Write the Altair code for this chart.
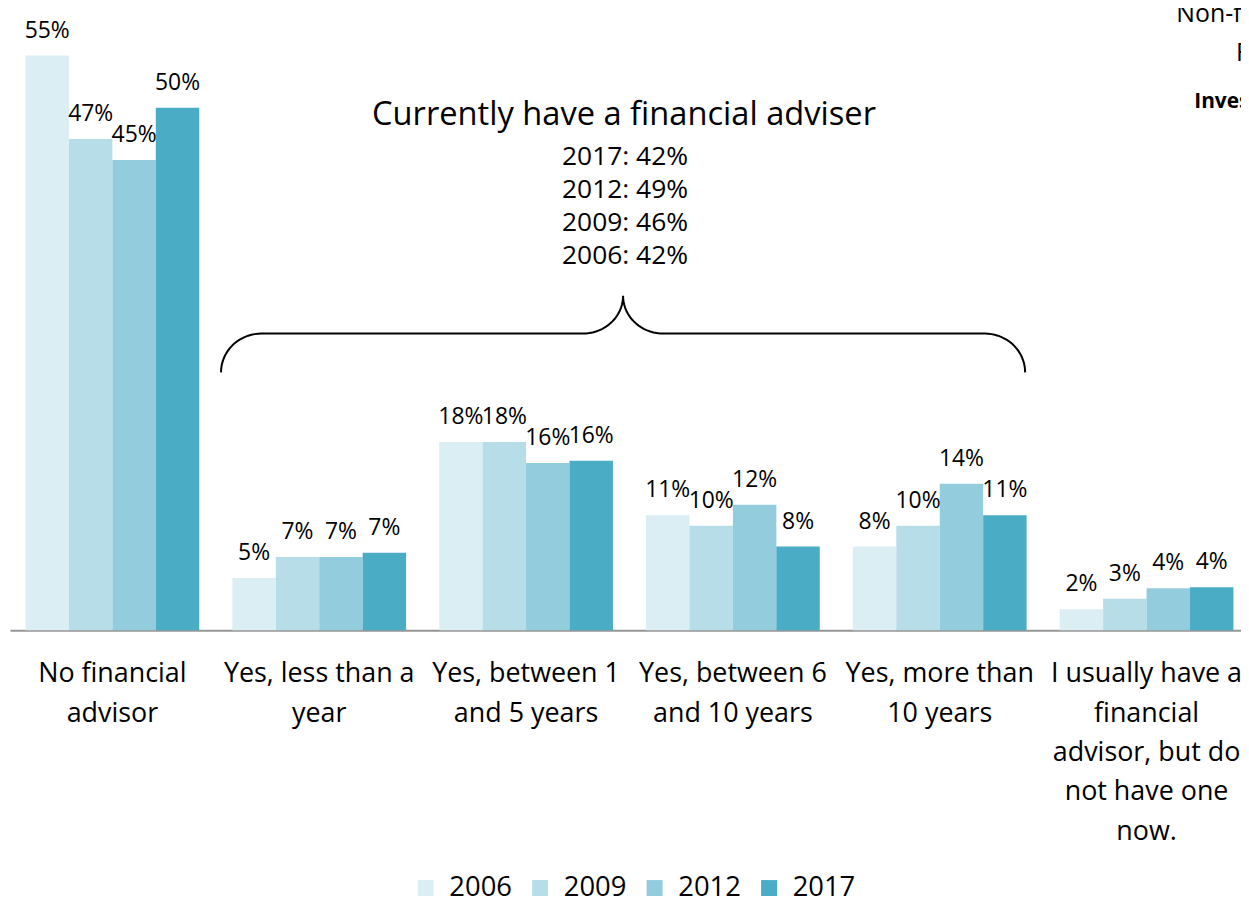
import altair as alt
import pandas as pd
import numpy as np

# ---------------- data ----------------
categories = [
    ["No financial", "advisor"],
    ["Yes, less than a", "year"],
    ["Yes, between 1", "and 5 years"],
    ["Yes, between 6", "and 10 years"],
    ["Yes, more than", "10 years"],
    ["I usually have a", "financial", "advisor, but do", "not have one", "now."],
]
years = ["2006", "2009", "2012", "2017"]
v2006 = [55, 5, 18, 11, 8, 2]
v2009 = [47, 7, 18, 10, 10, 3]
v2012 = [45, 7, 16, 12, 14, 4]
v2017 = [50, 7.4, 16.2, 8, 11, 4.1]
colors = ["#DBEEF4", "#B7DDE8", "#93CDDD", "#4BACC6"]

adviser_title = "Currently have a financial adviser"
adviser_years = ["2017", "2012", "2009", "2006"]
adviser_share = [42, 49, 46, 42]

corner_texts = ["Non-financial", "Financial", "Investors"]

FONT = "Open Sans"

cat_names = ["\n".join(c) for c in categories]
rows = []
for yr, vals in zip(years, [v2006, v2009, v2012, v2017]):
    for c, v in zip(cat_names, vals):
        rows.append({"cat": c, "year": yr, "value": v})
df = pd.DataFrame(rows)

XRANGE = 1245
YMAX = 59.33
yscale = alt.Scale(domain=[0, YMAX], nice=False, zero=True)
xscale = alt.Scale(paddingInner=0.16, paddingOuter=0.075, range=[0, XRANGE])

x_axis = alt.Axis(
    title=None,
    labelAngle=0,
    labelExpr="split(datum.value, '\\n')",
    labelFont=FONT,
    labelFontSize=27,
    labelLineHeight=39.5,
    labelPadding=31,
    labelLimit=500,
    labelOverlap=False,
    labelColor="black",
    ticks=False,
    tickSize=0,
    domainColor="#969696",
    domainWidth=2,
)
xoff = alt.XOffset("year:N", sort=years, scale=alt.Scale(paddingInner=0, paddingOuter=0))

bars = alt.Chart(df).mark_bar().encode(
    x=alt.X("cat:N", sort=cat_names, scale=xscale, axis=x_axis),
    xOffset=xoff,
    y=alt.Y("value:Q", scale=yscale, axis=None),
    color=alt.Color(
        "year:N",
        sort=years,
        scale=alt.Scale(domain=years, range=colors),
        legend=alt.Legend(
            orient="none",
            legendX=404,
            legendY=868,
            direction="horizontal",
            title=None,
            symbolType="square",
            symbolSize=256,
            symbolStrokeWidth=0,
            symbolOpacity=1,
            labelFont=FONT,
            labelFontSize=27.5,
            labelColor="black",
            labelOffset=10,
            columnPadding=14,
            padding=0,
        ),
    ),
)

labels = alt.Chart(df).transform_calculate(
    label="format(datum.value / 100, '.0%')"
).mark_text(font=FONT, fontSize=23, color="black", baseline="alphabetic", dy=-18).encode(
    x=alt.X("cat:N", sort=cat_names, scale=xscale, axis=None),
    xOffset=xoff,
    y=alt.Y("value:Q", scale=yscale, axis=None),
    text="label:N",
)

# ---------------- brace (in category units / percent units) ----------------
x_left, x_tip, x_right = 1.022, 2.969, 4.916
y_end, y_mid, y_tip = 24.67, 28.38, 32.0
rx = 0.195
ry1 = y_mid - y_end
ry2 = y_tip - y_mid
pts = []
t = np.linspace(np.pi, np.pi / 2, 20)
pts += list(zip(x_left + rx + rx * np.cos(t), y_end + ry1 * np.sin(t)))
t = np.linspace(-np.pi / 2, 0, 20)
pts += list(zip(x_tip - rx + rx * np.cos(t), y_tip + ry2 * np.sin(t)))
t = np.linspace(np.pi, 3 * np.pi / 2, 20)
pts += list(zip(x_tip + rx + rx * np.cos(t), y_tip + ry2 * np.sin(t)))
t = np.linspace(np.pi / 2, 0, 20)
pts += list(zip(x_right - rx + rx * np.cos(t), y_end + ry1 * np.sin(t)))
brace_df = pd.DataFrame({"u": [p[0] for p in pts], "p": [p[1] for p in pts], "i": range(len(pts))})

brace = alt.Chart(brace_df).mark_line(color="black", strokeWidth=2).encode(
    x=alt.X("u:Q", scale=alt.Scale(domain=[0, 6], nice=False, zero=False, range=[0, XRANGE]), axis=None),
    y=alt.Y("p:Q", scale=yscale, axis=None),
    order="i:Q",
)

one = pd.DataFrame({"a": [0]})
title_txt = alt.Chart(one).mark_text(
    text=adviser_title, font=FONT, fontSize=32.8, color="black", baseline="middle", align="center"
).encode(x=alt.value(617), y=alt.value(105))

lines = [f"{y}: {s}%" for y, s in zip(adviser_years, adviser_share)]
lines_txt = alt.Chart(one).mark_text(
    text=lines, font=FONT, fontSize=26.5, color="black", baseline="alphabetic",
    align="center", lineHeight=33
).encode(x=alt.value(618), y=alt.value(156))

c1 = alt.Chart(one).mark_text(text=corner_texts[0], font=FONT, fontSize=25, color="black",
                              align="left", baseline="middle").encode(x=alt.value(1172), y=alt.value(4))
c2 = alt.Chart(one).mark_text(text=corner_texts[1], font=FONT, fontSize=25, color="black",
                              align="left", baseline="middle").encode(x=alt.value(1232), y=alt.value(43))
c3 = alt.Chart(one).mark_text(text=corner_texts[2], font=FONT, fontSize=21, fontWeight="bold",
                              color="black", align="left", baseline="middle").encode(x=alt.value(1190), y=alt.value(92))

chart = alt.layer(bars, labels, brace, title_txt, lines_txt, c1, c2, c3).resolve_scale(
    x="independent"
).properties(
    width=1237,
    height=623,
    autosize=alt.AutoSizeParams(type="none"),
    padding={"left": 2, "top": 0, "right": 0, "bottom": 273},
).configure_view(stroke=None)

chart.save("out.html", embed_options={"renderer": "svg", "actions": False})
